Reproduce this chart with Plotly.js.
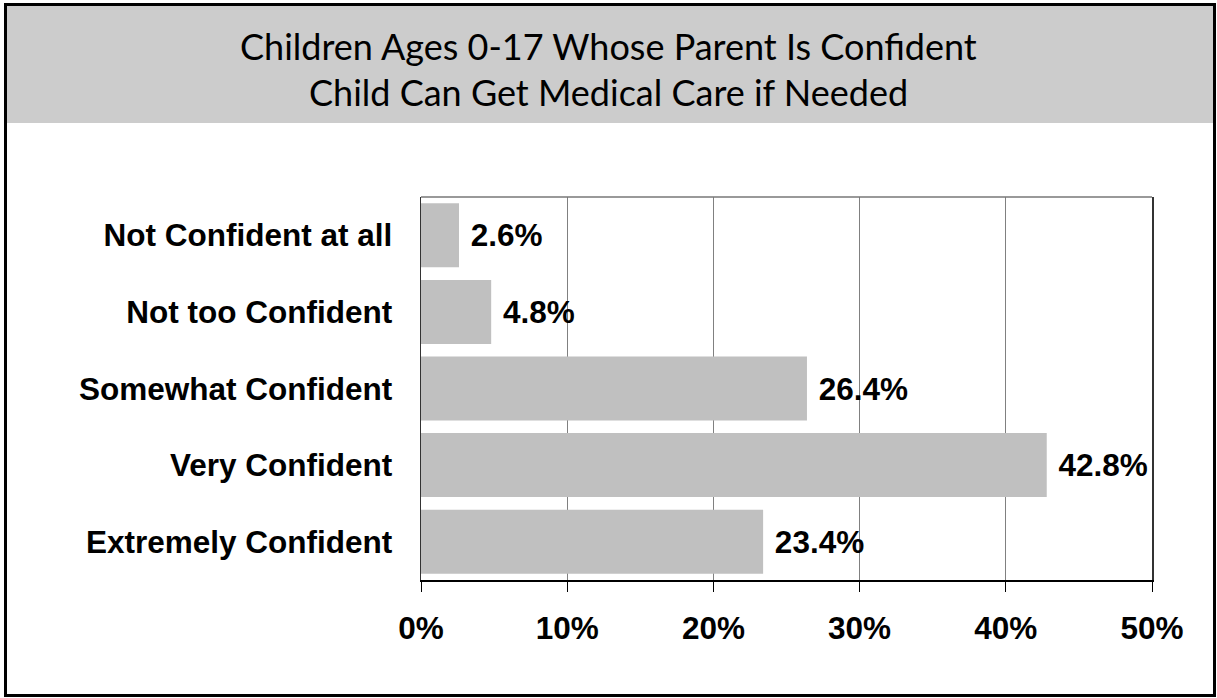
<!DOCTYPE html>
<html>
<head>
<meta charset="utf-8">
<script src="https://cdn.plot.ly/plotly-3.0.1.min.js"></script>
<style>html,body{margin:0;padding:0;background:#fff;}#chart{width:1217px;height:698px;}</style>
</head>
<body>
<div id="chart"></div>
<script>
const categories = ["Not Confident at all", "Not too Confident", "Somewhat Confident", "Very Confident", "Extremely Confident"];
const values = [2.6, 4.8, 26.4, 42.8, 23.4];
const xTickValues = [0, 10, 20, 30, 40, 50];
const xTickLabels = ["0%", "10%", "20%", "30%", "40%", "50%"];
const titleLines = ["Children Ages 0-17 Whose Parent Is Confident", "Child Can Get Medical Care if Needed"];

const W = 1217, H = 698;
const m = {l: 421, r: 65, t: 197, b: 118};
const pw = W - m.l - m.r, ph = H - m.t - m.b;
const px2x = p => (p - m.l) / pw;
const py2y = p => (H - m.b - p) / ph;
const LAB = 'Liberation Sans, Arial, sans-serif';

const trace = {
  type: 'bar',
  orientation: 'h',
  y: categories,
  x: values,
  marker: {color: '#c0c0c0', line: {width: 0}},
  text: values.map(v => '\u00a0' + v.toFixed(1) + '%'),
  textposition: 'outside',
  textfont: {family: LAB, size: 31.5, color: '#000', weight: 'bold'},
  cliponaxis: false,
  hoverinfo: 'none'
};

const titleY = [46, 92];
const layout = {
  width: W, height: H,
  margin: m,
  paper_bgcolor: '#ffffff',
  plot_bgcolor: '#ffffff',
  showlegend: false,
  bargap: 0.165,
  font: {family: LAB, color: '#000'},
  xaxis: {
    range: [0, 50],
    tickvals: xTickValues,
    ticktext: xTickLabels,
    tickfont: {size: 31.5, weight: 'bold', family: LAB, color: '#000'},
    ticks: 'outside', ticklen: 10, tickcolor: '#000', tickwidth: 1,
    showgrid: true, gridcolor: '#808080', gridwidth: 1,
    showline: true, linecolor: '#000', linewidth: 1.5,
    zeroline: false, fixedrange: true,
    ticklabelstandoff: 10
  },
  yaxis: {
    type: 'category',
    autorange: 'reversed',
    tickfont: {size: 31.5, weight: 'bold', family: LAB, color: '#000'},
    ticks: '',
    showline: true, linecolor: '#333', linewidth: 1.5, mirror: true,
    showgrid: false, zeroline: false, fixedrange: true,
    ticklabelstandoff: 21
  },
  annotations: titleLines.map((t, i) => ({
    text: t, xref: 'paper', yref: 'paper', showarrow: false,
    x: px2x(W / 2), y: py2y(titleY[i]), xanchor: 'center', yanchor: 'middle',
    font: {family: 'Lato, Noto Sans, sans-serif', size: 36, color: '#000'}
  })),
  shapes: [
    {type: 'rect', xref: 'paper', yref: 'paper', layer: 'below',
     x0: px2x(6), x1: px2x(1214), y0: py2y(123), y1: py2y(5),
     fillcolor: '#cccccc', line: {width: 0}},
    {type: 'line', xref: 'paper', yref: 'paper',
     x0: 0, x1: 1, y0: 1, y1: 1, line: {color: '#777', width: 1.5}},
    {type: 'rect', xref: 'paper', yref: 'paper', layer: 'above',
     x0: px2x(5.5), x1: px2x(1214.5), y0: py2y(695.5), y1: py2y(4.5),
     fillcolor: 'rgba(0,0,0,0)', line: {color: '#000', width: 3}}
  ]
};

Plotly.newPlot('chart', [trace], layout, {displayModeBar: false, staticPlot: true});
</script>
</body>
</html>
